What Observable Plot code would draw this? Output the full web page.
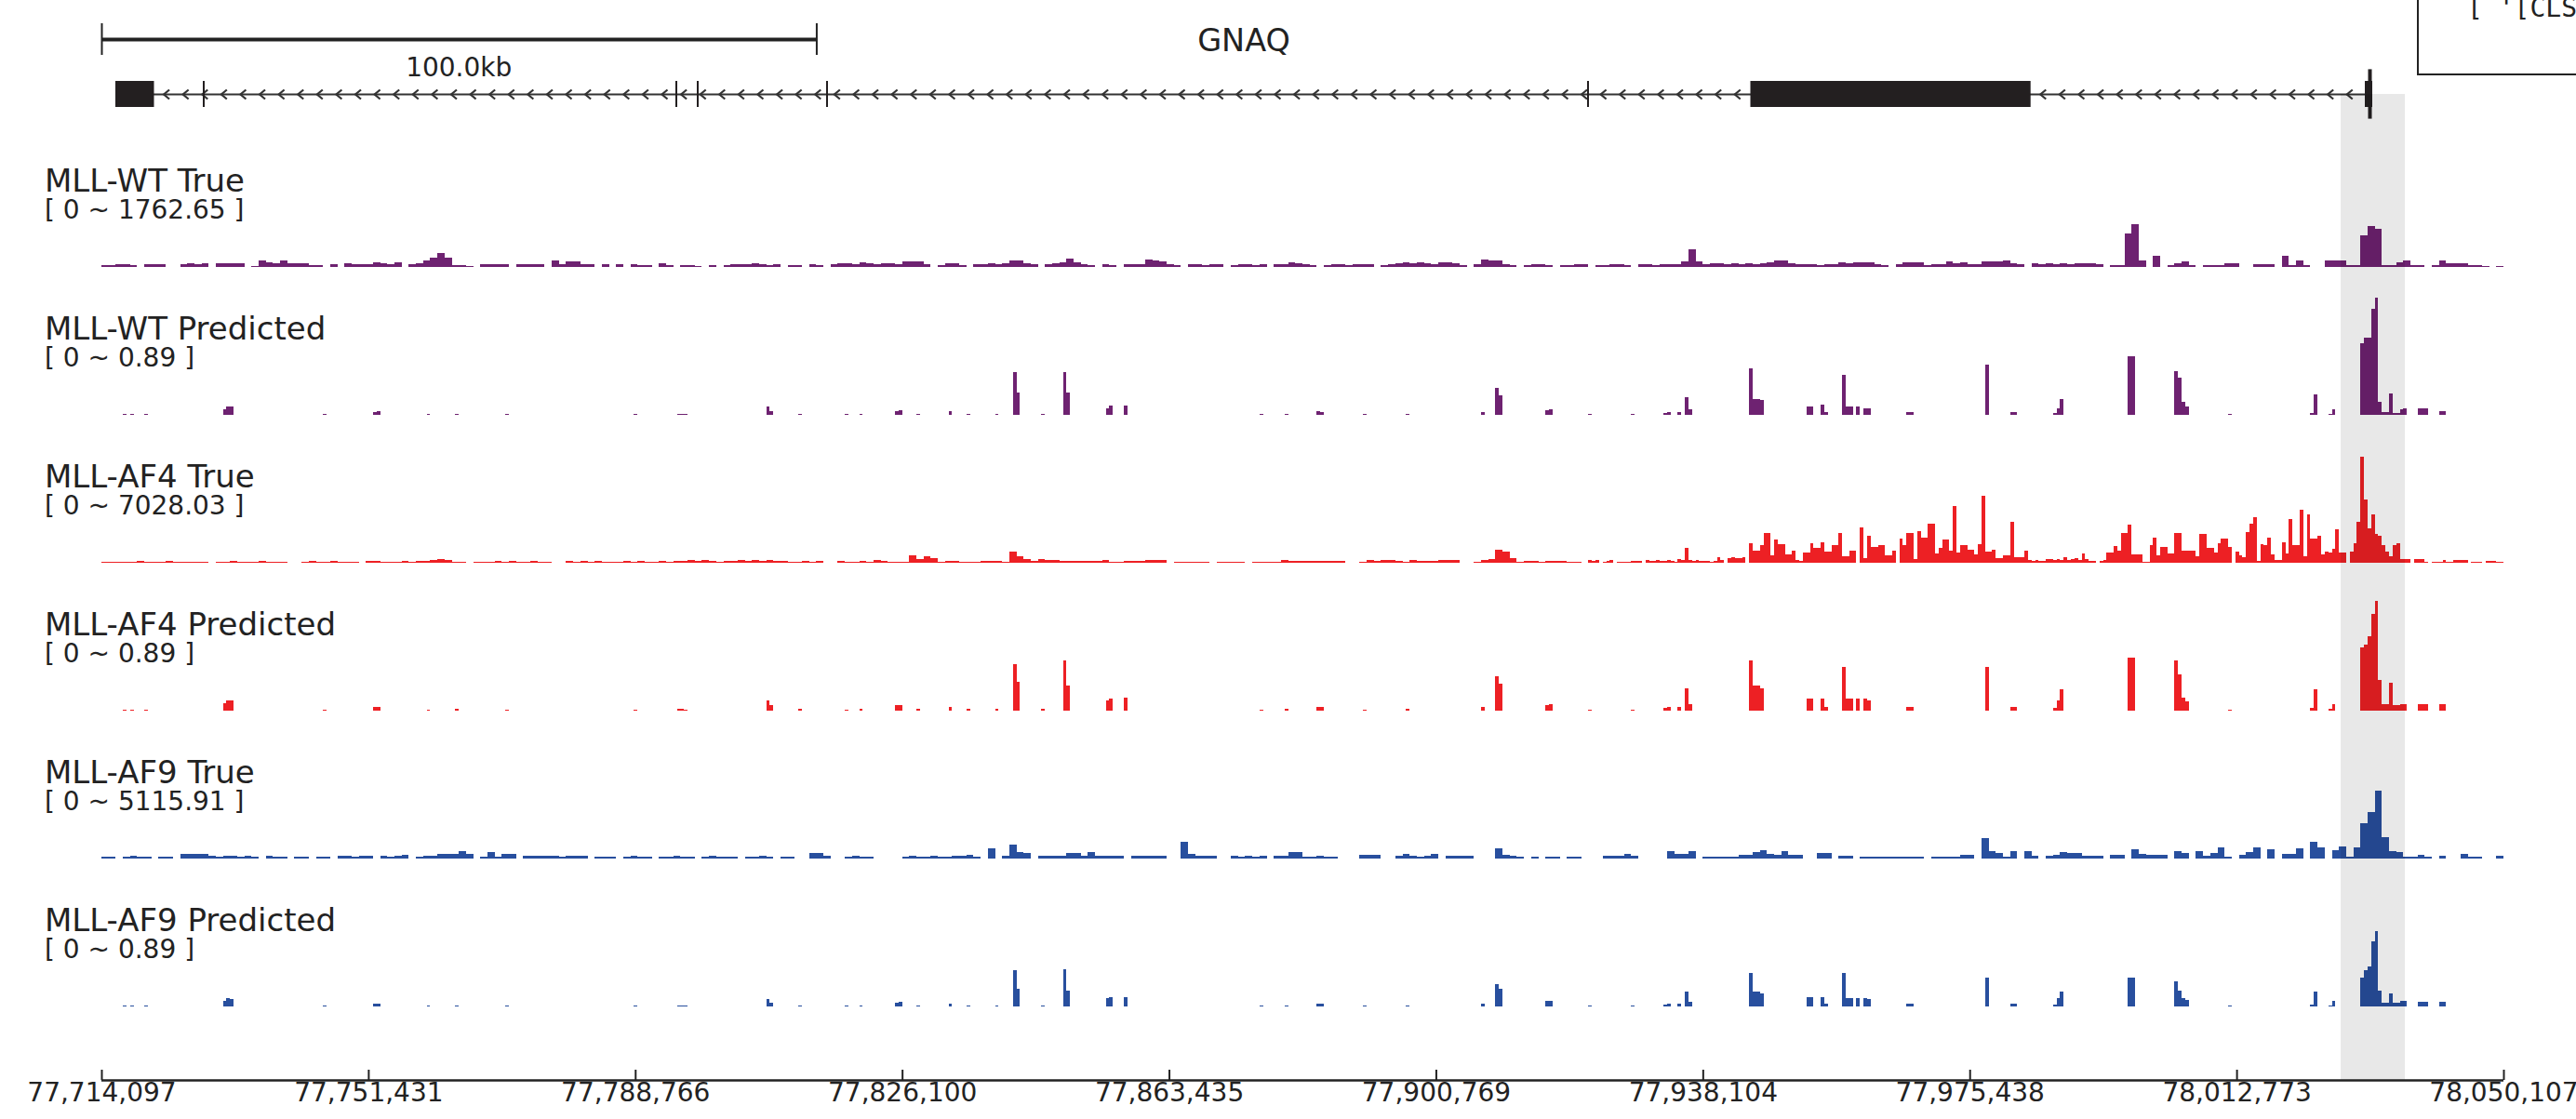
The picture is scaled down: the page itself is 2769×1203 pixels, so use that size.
<!DOCTYPE html>
<html><head><meta charset="utf-8">
<script src="https://cdn.jsdelivr.net/npm/d3@7"></script>
<script src="https://cdn.jsdelivr.net/npm/@observablehq/plot@0.6"></script>
<style>
html,body{margin:0;padding:0;background:#fff;overflow:hidden;}
#chart{position:relative;width:2769px;height:1203px;overflow:hidden;font-family:"DejaVu Sans",sans-serif;color:#222;}
.lbl{position:absolute;white-space:nowrap;line-height:1;}
</style></head><body><div id="chart"></div>
<script>
// ---------------- data ----------------
const regionStart = 77714097, regionEnd = 78050107;
const binSizeBp = 1000;      // true tracks (coarse part)
const fineBinBp = 500;       // fine resolution part / predicted tracks
const tickPositions = [77714097, 77751431, 77788766, 77826100, 77863435, 77900769, 77938104, 77975438, 78012773, 78050107];
const trackNames = ["MLL-WT True", "MLL-WT Predicted", "MLL-AF4 True", "MLL-AF4 Predicted", "MLL-AF9 True", "MLL-AF9 Predicted"];
const trackMax = [1762.65, 0.89, 7028.03, 0.89, 5115.91, 0.89];
const geneName = "GNAQ";
const exonStarts = [77716049, 77944762, 78030717, 77728282, 77794391, 77797384, 77815473, 77921925];
const exonEnds   = [77721450, 77983959, 78031758, 77728542, 77794651, 77797644, 77815733, 77922185];
const mainExonCount = 3;
const tssMark = 78031368;
const highlightRange = [78027335, 78036315];
const scaleBarBp = 100000;
const legendText = "[ '[CLS";

// true tracks: 1 kb bins from regionStart
const wtTrue = [
30,25,35,35,30,0,35,40,35,0,0,45,50,45,50,0,50,55,60,50,
0,20,100,65,60,92,60,55,60,25,25,0,40,0,55,45,45,45,75,50,
45,75,0,45,60,95,140,210,140,25,25,20,0,35,45,45,35,0,35,35,
45,45,0,100,45,80,85,45,35,0,45,0,35,0,35,30,25,0,50,30,
0,25,30,20,0,30,0,30,45,35,40,50,45,30,40,0,30,25,0,35,
30,0,40,55,60,45,70,50,40,55,60,45,80,90,85,40,0,30,55,50,
30,0,35,40,55,45,60,100,95,50,35,0,40,55,65,120,70,45,30,0,
35,30,0,40,35,45,110,100,80,40,30,0,35,40,30,45,35,0,30,40,
35,30,40,0,35,40,75,60,35,30,0,30,35,40,30,45,40,35,0,30,
40,60,70,55,65,60,40,75,65,55,30,0,40,110,95,100,45,30,0,30,
35,40,30,0,30,25,40,35,0,30,25,35,40,30,0,35,40,30,45,35,
40,80,270,90,45,50,60,45,55,40,60,45,55,70,100,95,50,40,45,35,
30,40,35,70,60,75,70,65,40,30,0,35,70,75,65,30,40,35,80,60,
75,40,35,90,85,80,95,60,40,0,55,45,50,45,50,45,55,60,50,40,
0,25,25,500,640,100,0,165,0,30,60,90,25,0,25,30,30,60,60,0,
0,35,35,35,0,165,30,100,30,0,0,100,100,100,30,30,470,615,570,25,
25,75,100,30,30,0,30,100,60,50,50,25,25,15,0,15];
// AF4 true: 1 kb bins for 0–207 kb, then 0.5 kb bins from 207 kb
const af4TrueCoarse = [
60,55,80,55,70,90,60,50,70,85,55,75,60,80,65,0,70,60,85,55,
75,60,90,70,55,80,0,0,65,90,70,60,85,75,60,80,0,130,120,70,
80,60,90,75,110,95,140,240,180,70,60,0,55,80,60,90,70,85,60,75,
95,70,80,0,0,85,60,100,75,90,65,80,70,95,60,85,75,60,90,70,
110,130,150,120,140,110,80,90,120,140,130,150,110,140,120,90,80,70,95,75,
85,0,0,110,70,60,110,75,140,130,70,80,80,425,220,390,275,80,110,110,
70,60,80,100,110,100,75,680,370,220,90,220,185,185,90,110,100,110,90,110,
165,80,70,120,130,110,140,185,160,0,55,55,50,55,55,0,40,40,45,40,
0,80,75,80,60,185,110,100,110,90,85,90,130,130,0,0,80,140,100,165,
165,130,60,140,130,130,110,165,160,185,0,0,50,165,220,775,680,275,80,110,
110,60,130,110,110,55,55];
const af4TrueFineStartKb = 207;
const af4TrueFine = [
0,0,150,100,150,0,60,110,150,0,
60,80,60,60,100,90,100,0,150,120,
110,150,130,110,150,100,80,240,150,880,
150,110,150,100,120,130,60,110,330,150,
0,250,330,250,300,330,0,1160,700,700,
1030,1770,1770,420,1400,1120,1120,515,515,700,
150,100,600,600,1140,880,880,1200,660,660,
1070,1070,1770,390,390,700,700,0,2130,300,
1580,940,940,1030,1030,420,420,700,0,1435,
1030,1750,1750,220,1860,1490,1490,2300,2300,550,
880,1380,1380,700,3400,630,1030,1030,760,760,
520,1100,3975,660,660,790,250,250,420,420,
2430,330,330,330,700,150,110,150,110,130,
240,240,150,200,150,330,150,200,250,150,
560,200,110,110,0,110,180,600,600,975,
700,1770,1770,2260,500,500,500,60,60,1070,
1470,420,920,920,560,560,1770,1770,700,700,
740,740,390,1710,1710,880,880,600,1160,1435,
1435,960,0,660,420,330,1800,2320,2690,110,
1100,1030,1510,520,180,180,1200,570,2600,1070,
1070,3130,370,2870,1435,1435,1620,520,660,590,
830,2000,600,600,0,660,1160,2450,6310,3750,
2020,2900,1710,1580,1030,660,370,1070,1140,240,
220,220,0,220,220,220,60,0,60,60,
60,180,60,60,180,180,180,180,0,80,
80,80,0,110,110,110,60,60];
const af9True = [
95,80,0,95,110,80,95,0,80,95,0,200,200,200,200,107,95,107,120,95,
107,95,0,107,80,80,0,95,80,0,80,95,0,107,107,95,120,107,0,107,
95,107,160,0,95,135,135,200,200,200,320,200,0,95,268,95,200,200,0,107,
135,107,120,135,95,107,135,107,0,95,80,95,0,95,107,80,95,0,80,95,
107,95,80,0,95,107,95,80,95,0,80,95,107,95,0,95,80,0,0,228,
228,107,0,0,100,107,95,100,0,0,0,0,100,107,95,100,107,95,100,107,
107,160,95,0,430,0,107,600,268,240,0,135,120,135,135,228,228,135,268,135,
135,120,135,0,135,135,120,135,135,0,0,737,200,135,120,135,0,0,107,95,
107,95,107,0,107,135,268,268,95,80,107,95,80,0,0,0,175,175,175,0,
0,107,200,107,95,107,200,0,135,135,120,135,0,0,0,430,175,107,80,0,
80,0,80,80,0,80,80,0,0,0,135,135,120,215,120,0,0,0,0,335,
200,200,335,0,70,70,70,70,70,160,160,268,360,200,175,320,160,160,0,0,
240,240,0,135,135,0,95,95,95,95,95,80,80,80,80,0,80,80,80,80,
160,160,0,900,335,228,70,320,0,335,135,0,107,160,300,255,240,107,107,107,
0,160,160,0,400,200,175,175,175,0,320,240,0,320,107,228,470,70,0,160,
268,495,0,400,0,200,200,430,0,737,470,0,375,536,95,470,1515,2010,2950,910,
335,300,70,70,160,70,0,107,0,0,200,80,80,0,0,135];

// predicted tracks: sparse 0.5 kb bins, offset (kb) from regionStart
const predOffsetKb = [
3.0,4.0,6.0,17.0,17.5,18.0,31.0,38.0,
38.5,45.5,49.5,56.5,74.5,80.5,81.0,81.5,
93.0,93.5,97.5,104.0,106.0,111.0,111.5,114.0,
118.5,121.0,125.0,127.5,128.0,131.5,134.5,135.0,
140.5,141.0,143.0,162.0,165.5,170.0,170.5,176.5,
182.5,193.0,195.0,195.5,202.0,202.5,208.0,214.0,
218.5,219.0,220.5,221.5,222.0,230.5,231.0,231.5,
232.0,238.5,239.0,240.5,241.0,243.5,244.0,244.5,
245.5,246.5,247.0,252.5,253.0,263.5,267.0,267.5,
273.0,273.5,274.0,283.5,284.0,290.0,290.5,291.0,
291.5,297.5,309.0,309.5,311.5,312.0,316.0,316.5,
317.0,317.5,318.0,318.5,319.0,319.5,320.0,320.5,
321.0,321.5,322.0,324.0,324.5,325.0,327.0,327.5];
const wtPred = [
.010,.008,.010,.045,.060,.060,.008,.020,
.025,.008,.010,.010,.010,.010,.010,.008,
.060,.030,.010,.008,.010,.030,.035,.010,
.025,.010,.010,.320,.170,.010,.320,.170,
.050,.070,.070,.010,.010,.025,.020,.008,
.010,.020,.200,.150,.035,.040,.008,.008,
.015,.020,.020,.130,.040,.350,.120,.120,
.110,.060,.060,.080,.020,.300,.065,.060,
.060,.050,.050,.020,.020,.380,.020,.020,
.015,.047,.120,.440,.440,.330,.280,.100,
.065,.008,.015,.157,.010,.040,.537,.580,
.580,.800,.880,.100,.023,.023,.163,.016,
.016,.040,.050,.050,.050,.050,.028,.028];
const af4Pred = [
.010,.008,.010,.055,.080,.075,.008,.025,
.030,.008,.012,.010,.010,.012,.012,.010,
.080,.040,.012,.010,.012,.040,.045,.012,
.030,.012,.012,.350,.220,.012,.380,.190,
.080,.090,.100,.010,.012,.030,.025,.010,
.012,.025,.260,.200,.045,.050,.010,.010,
.020,.025,.025,.170,.050,.380,.190,.190,
.170,.090,.090,.090,.030,.330,.090,.090,
.090,.090,.080,.025,.025,.330,.025,.025,
.020,.080,.160,.400,.400,.380,.270,.100,
.070,.010,.020,.160,.012,.050,.480,.500,
.560,.730,.830,.230,.050,.050,.210,.040,
.040,.050,.050,.050,.050,.050,.050,.050];
const af9Pred = [
.008,.006,.008,.040,.060,.055,.006,.018,
.022,.006,.008,.008,.008,.008,.008,.008,
.055,.025,.010,.008,.008,.030,.035,.008,
.022,.008,.008,.270,.135,.008,.280,.120,
.065,.070,.070,.008,.008,.020,.018,.008,
.008,.020,.170,.130,.040,.045,.008,.008,
.015,.020,.020,.110,.035,.250,.110,.110,
.100,.070,.070,.070,.020,.250,.060,.060,
.060,.060,.055,.018,.018,.220,.020,.020,
.015,.060,.110,.220,.220,.190,.120,.060,
.050,.008,.015,.110,.010,.040,.220,.270,
.300,.490,.570,.120,.030,.030,.100,.030,
.030,.040,.040,.035,.035,.035,.035,.035];

// ---------------- layout & style ----------------
const W = 2769, ML = 109, MR = 78;
const TRACK_H = 127, BASE0 = 287, STEP = 159;
const PURPLE = "#6e2271", RED = "#ed2024", BLUE = "#284f9e", INK = "#222", EXON = "#231f20";
const trackColors = [PURPLE, PURPLE, RED, RED, BLUE, BLUE];
const chart = document.getElementById("chart");
const xOpt = {domain: [regionStart, regionEnd], axis: null};
const baseStyle = {background: "transparent", overflow: "visible", fontFamily: "DejaVu Sans"};

function place(svg, top) {
  svg.style.position = "absolute";
  svg.style.left = "0px";
  svg.style.top = top + "px";
  chart.appendChild(svg);
  return svg;
}
function addText(text, left, top, size, opts = {}) {
  const d = document.createElement("div");
  d.className = "lbl";
  d.textContent = text;
  d.style.left = left + "px";
  d.style.top = top + "px";
  d.style.fontSize = size + "px";
  if (opts.center) d.style.transform = "translateX(-50%)";
  if (opts.family) d.style.fontFamily = opts.family;
  chart.appendChild(d);
  return d;
}

const binBars = (arr, startKb, sizeBp) => arr.map((v, i) => {
  const x1 = regionStart + startKb * 1000 + i * sizeBp;
  return {x1, x2: x1 + sizeBp, v};
}).filter(d => d.v > 0);
const predBars = arr => arr.map((v, i) => ({x1: regionStart + predOffsetKb[i] * 1000, x2: regionStart + predOffsetKb[i] * 1000 + fineBinBp, v})).filter(d => d.v > 0);
const trackData = [
  binBars(wtTrue, 0, binSizeBp),
  predBars(wtPred),
  binBars(af4TrueCoarse, 0, binSizeBp).concat(binBars(af4TrueFine, af4TrueFineStartKb, fineBinBp)),
  predBars(af4Pred),
  binBars(af9True, 0, binSizeBp),
  predBars(af9Pred)
];

// ---------------- scale bar ----------------
const sb = Plot.plot({
  width: W, height: 34, marginLeft: ML, marginRight: MR, marginTop: 0, marginBottom: 0,
  x: xOpt, y: {domain: [0, 1], axis: null}, style: baseStyle,
  marks: [
    Plot.ruleX([regionStart, regionStart + scaleBarBp], {stroke: INK, strokeWidth: 2}),
    Plot.ruleY([{a: regionStart, b: regionStart + scaleBarBp}], {x1: "a", x2: "b", y: 0.5, stroke: INK, strokeWidth: 4})
  ]
});
place(sb, 25);
const sx = sb.scale("x");
addText((scaleBarBp / 1000).toFixed(1) + "kb", sx.apply(regionStart + scaleBarBp / 2), 58.5, 28, {center: true});

// ---------------- gene track ----------------
const exons = exonStarts.map((s, i) => ({s, e: exonEnds[i]}));
const geneStart = d3.min(exonStarts), geneEnd = d3.max(exonEnds);
const mainExons = exons.slice(0, mainExonCount).sort((a, b) => a.s - b.s);
const chevronStepBp = 2680;
const chevrons = [];
for (let k = 0; k < mainExons.length - 1; k++) {
  const a = mainExons[k].e, b = mainExons[k + 1].s;
  for (const p of d3.range(a + 1700, b - 800, chevronStepBp)) chevrons.push(p);
}
const chevronSymbol = {draw(ctx) { ctx.moveTo(3, -5); ctx.lineTo(-3, 0); ctx.lineTo(3, 5); }};
const gene = Plot.plot({
  width: W, height: 56, marginLeft: ML, marginRight: MR, marginTop: 0, marginBottom: 0,
  x: xOpt, y: {domain: [-1, 1], axis: null}, style: baseStyle,
  marks: [
    Plot.ruleY([{s: geneStart, e: geneEnd}], {x1: "s", x2: "e", y: 0, stroke: "#333", strokeWidth: 2}),
    Plot.dot(chevrons, {x: d => d, y: 0, symbol: chevronSymbol, fill: "none", stroke: "#333", strokeWidth: 2.2}),
    Plot.rect(exons, {x1: "s", x2: "e", y1: -0.5, y2: 0.5, fill: EXON}),
    Plot.ruleX([tssMark], {y1: -0.95, y2: 0.95, stroke: EXON, strokeWidth: 4})
  ]
});
place(gene, 73);
addText(geneName, gene.scale("x").apply((geneStart + geneEnd) / 2), 27, 33.5, {center: true});

// ---------------- signal tracks ----------------
trackNames.forEach((name, i) => {
  const base = BASE0 + STEP * i;
  const p = Plot.plot({
    width: W, height: TRACK_H, marginLeft: ML, marginRight: MR, marginTop: 0, marginBottom: 0,
    x: xOpt, y: {domain: [0, trackMax[i]], axis: null}, style: baseStyle,
    marks: [
      Plot.rect(trackData[i], {x1: "x1", x2: "x2", y1: 0, y2: "v", fill: trackColors[i], shapeRendering: "crispEdges"})
    ]
  });
  place(p, base - TRACK_H);
  addText(name, 48, base - 110, 34);
  addText(`[ 0 ~ ${trackMax[i]} ]`, 48, base - 75.5, 28);
});

// ---------------- highlight band ----------------
const band = Plot.plot({
  width: W, height: 1060, marginLeft: ML, marginRight: MR, marginTop: 0, marginBottom: 0,
  x: xOpt, style: baseStyle,
  marks: [Plot.rect([highlightRange], {x1: d => d[0], x2: d => d[1], fill: "#000", fillOpacity: 0.09})]
});
place(band, 101);

// ---------------- bottom axis ----------------
const fmt = d3.format(",");
const axis = Plot.plot({
  width: W, height: 63, marginLeft: ML, marginRight: MR, marginTop: 10, marginBottom: 42,
  x: xOpt, y: {domain: [0, 1], axis: null}, style: baseStyle,
  marks: [
    Plot.ruleX(tickPositions, {stroke: INK, strokeWidth: 2}),
    Plot.ruleY([0], {stroke: INK, strokeWidth: 2.5}),
    Plot.text(tickPositions, {x: d => d, text: d => fmt(d), frameAnchor: "bottom", dy: 22, fontSize: 28, fill: INK})
  ]
});
place(axis, 1140);

// ---------------- partial legend box (top right) ----------------
const box = document.createElement("div");
box.style.cssText = "position:absolute;left:2598px;top:-20px;width:300px;height:101px;box-sizing:border-box;border:2px solid #222;";
chart.appendChild(box);
addText(legendText, 2652, -4.7, 28, {family: "'DejaVu Sans Mono', monospace"});
</script></body></html>
